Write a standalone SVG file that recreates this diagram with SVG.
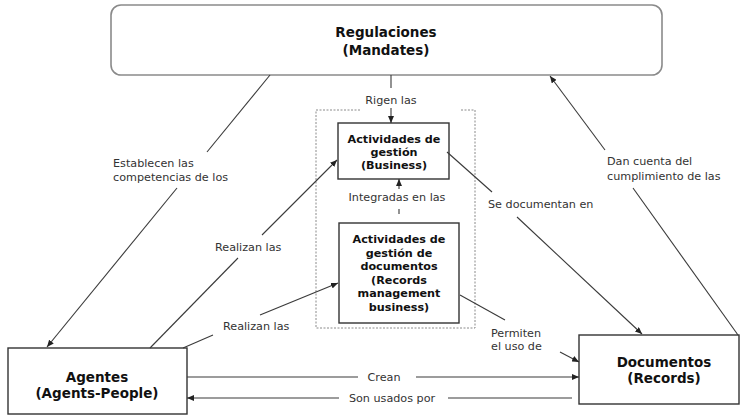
<svg xmlns="http://www.w3.org/2000/svg" width="742" height="418" viewBox="0 0 742 418">
<defs>
<style>
.node{fill:#fff;stroke:#333;stroke-width:1.4}
.top{fill:#fff;stroke:#8a8a8a;stroke-width:1.6}
.dash{fill:none;stroke:#8a8a8a;stroke-width:1;stroke-dasharray:2,1.5}
.ln{stroke:#3a3a3a;stroke-width:1.1;fill:none}
.big{font-family:"DejaVu Sans",Verdana,sans-serif;font-weight:bold;font-size:13.5px;fill:#111;text-anchor:middle}
.mid{font-family:"DejaVu Sans",Verdana,sans-serif;font-weight:bold;font-size:11.2px;fill:#111;text-anchor:middle}
.lab{font-family:"DejaVu Sans",Verdana,sans-serif;font-size:11.2px;fill:#333}
</style>
<marker id="ah" markerWidth="7" markerHeight="6" refX="7" refY="3" orient="auto" markerUnits="userSpaceOnUse">
<path d="M0,0 L7,3 L0,6 z" fill="#222"/>
</marker>
</defs>
<rect width="742" height="418" fill="#fff"/>

<g id="regulaciones">
<rect class="top" x="111" y="5" width="551" height="70" rx="10"/>
<text class="big" x="386" y="37">Regulaciones</text>
<text class="big" x="386" y="55">(Mandates)</text>
</g>

<g id="grupo-actividades">
<path class="dash" d="M360,110 H316 V328 H475 V110 H460"/>
</g>

<g id="business">
<rect class="node" x="338" y="123" width="111" height="56"/>
<text class="mid" x="394" y="143">Actividades de</text>
<text class="mid" x="394" y="156">gestión</text>
<text class="mid" x="394" y="169">(Business)</text>
</g>

<g id="records-business">
<rect class="node" x="339" y="223" width="120" height="100"/>
<text class="mid" x="399" y="243">Actividades de</text>
<text class="mid" x="399" y="256.5">gestión de</text>
<text class="mid" x="399" y="270">documentos</text>
<text class="mid" x="399" y="283.5">(Records</text>
<text class="mid" x="399" y="297">management</text>
<text class="mid" x="399" y="310.5">business)</text>
</g>

<g id="agentes">
<rect class="node" x="8" y="348" width="179" height="66"/>
<text class="big" x="97" y="382">Agentes</text>
<text class="big" x="97" y="398">(Agents-People)</text>
</g>

<g id="documentos">
<rect class="node" x="579" y="335" width="160" height="69"/>
<text class="big" x="664" y="367">Documentos</text>
<text class="big" x="664" y="383">(Records)</text>
</g>

<g id="connectors">
<line class="ln" x1="391" y1="75" x2="391" y2="88"/>
<line class="ln" x1="391" y1="108" x2="391" y2="123" marker-end="url(#ah)"/>
<line class="ln" x1="399" y1="214" x2="399" y2="209"/>
<line class="ln" x1="399" y1="189" x2="399" y2="179" marker-end="url(#ah)"/>
<line class="ln" x1="270" y1="75" x2="207" y2="152"/>
<line class="ln" x1="177" y1="188" x2="47" y2="347" marker-end="url(#ah)"/>
<line class="ln" x1="150" y1="348" x2="238" y2="258"/>
<line class="ln" x1="262" y1="235" x2="337" y2="160" marker-end="url(#ah)"/>
<line class="ln" x1="183" y1="348" x2="213" y2="335"/>
<line class="ln" x1="260" y1="315" x2="338" y2="283" marker-end="url(#ah)"/>
<line class="ln" x1="447" y1="152" x2="492" y2="192"/>
<line class="ln" x1="517" y1="217" x2="642" y2="334" marker-end="url(#ah)"/>
<line class="ln" x1="738" y1="335" x2="633" y2="188"/>
<line class="ln" x1="605" y1="150" x2="550" y2="76" marker-end="url(#ah)"/>
<line class="ln" x1="460" y1="295" x2="505" y2="320"/>
<line class="ln" x1="560" y1="352" x2="579" y2="362" marker-end="url(#ah)"/>
<line class="ln" x1="187" y1="377" x2="358" y2="377"/>
<line class="ln" x1="416" y1="377" x2="579" y2="377" marker-end="url(#ah)"/>
<line class="ln" x1="572" y1="398" x2="448" y2="398"/>
<line class="ln" x1="339" y1="398" x2="187" y2="398" marker-end="url(#ah)"/>

<text class="lab" x="391" y="104" text-anchor="middle">Rigen las</text>
<text class="lab" x="397" y="201" text-anchor="middle">Integradas en las</text>
<text class="lab" x="113" y="167">Establecen las</text>
<text class="lab" x="113" y="181">competencias de los</text>
<text class="lab" x="215" y="251">Realizan las</text>
<text class="lab" x="223" y="330">Realizan las</text>
<text class="lab" x="488" y="208">Se documentan en</text>
<text class="lab" x="607" y="165">Dan cuenta del</text>
<text class="lab" x="607" y="180">cumplimiento de las</text>
<text class="lab" x="491" y="337">Permiten</text>
<text class="lab" x="491" y="350">el uso de</text>
<text class="lab" x="384" y="381" text-anchor="middle">Crean</text>
<text class="lab" x="392" y="402" text-anchor="middle">Son usados por</text>
</g>
</svg>
